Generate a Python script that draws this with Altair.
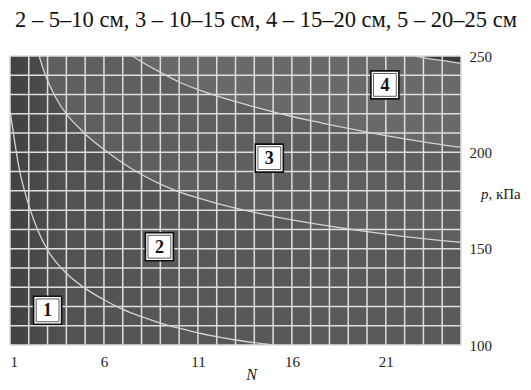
import altair as alt
import pandas as pd

# --- data ---
c1_N = [1, 1.5, 2, 2.5, 3, 4, 5, 6, 7, 8, 9, 10, 11, 12, 13, 14, 15]
c1_p = [222, 191, 172.6, 159, 149.3, 137.2, 129.4, 123.5, 118.5, 114.7, 111.4, 108.7, 106.3, 104.3, 102.6, 101.2, 100]

c2_N = [2.55, 2.85, 3.4, 4.15, 4.7, 5, 6, 7, 8, 9, 10, 11, 12, 13, 14, 15, 16, 17, 18, 19, 20, 21, 22, 23, 24, 25]
c2_p = [250, 241, 229, 218, 212.5, 209.5, 201.5, 194.5, 188.5, 183.5, 179.5, 176.3, 173.5, 171, 168.8, 166.8,
        165, 163.3, 161.7, 160.2, 158.8, 157.5, 156.3, 155.2, 154.2, 153.3]

c3_N = [7.5, 8, 9, 10, 11, 12, 13, 14, 15, 16, 17, 18, 19, 20, 21, 22, 23, 24, 25]
c3_p = [250, 247, 241.5, 236.5, 232.5, 229.3, 226.3, 223.6, 221, 218.6, 216.4, 214.4, 212.4, 210.5, 208.7,
        207, 205.4, 203.9, 202.6]

c4_N = [22.6, 23, 24, 25]
c4_p = [250, 249.2, 247.7, 246.2]

label_text = ["1", "2", "3", "4"]
label_N = [3.0, 8.95, 14.8, 20.95]
label_p = [118, 151, 197, 235]

x_ticks = [1, 6, 11, 16, 21]
y_ticks = [100, 150, 200, 250]
grid_N = list(range(1, 26))
grid_p = list(range(100, 251, 10))

caption = "2 – 5–10 см, 3 – 10–15 см, 4 – 15–20 см, 5 – 20–25 см"

W, H = 451, 289
FONT = "Liberation Serif"

def curve_df(N, p):
    return pd.DataFrame({"N": N, "p": p})

xs = alt.Scale(domain=[1, 25], nice=False, zero=False)
ys = alt.Scale(domain=[100, 250], nice=False, zero=False)
X = alt.X("N:Q", scale=xs, axis=alt.Axis(values=x_ticks, title="N", titleFontStyle="italic",
                                           titleFont=FONT, titleFontSize=16, titleFontWeight="normal",
                                           titleColor="#222", titleX=241, titleY=34,
                                           titleBaseline="alphabetic",
                                           labelFont=FONT, labelFontSize=15, labelColor="#222",
                                           labelPadding=9, domain=False, ticks=False, grid=False))
Y = alt.Y("p:Q", scale=ys, axis=alt.Axis(values=y_ticks, title=None, orient="right",
                                           labelFont=FONT, labelFontSize=15, labelColor="#222",
                                           labelPadding=8, domain=False, ticks=False, grid=False))

bg_df = pd.DataFrame({"N": [1], "N2": [25], "p": [100], "p2": [250]})
bg = alt.Chart(bg_df).mark_rect(
    color=alt.Gradient(gradient="linear", x1=0, x2=1, y1=0, y2=0,
                       stops=[alt.GradientStop(color="#414141", offset=0),
                              alt.GradientStop(color="#515151", offset=0.12),
                              alt.GradientStop(color="#575757", offset=0.35),
                              alt.GradientStop(color="#5a5a5a", offset=1)])
).encode(x=X, x2="N2:Q", y=Y, y2="p2:Q")

def area(N, p, color):
    return alt.Chart(curve_df(N, p)).mark_area(
        color=color, interpolate="monotone", clip=True
    ).encode(x=X, y=Y, y2=alt.datum(250))

r3 = area(c2_N, c2_p, "#5f5f5f")
r4 = area(c3_N, c3_p, "#696969")
r5 = area(c4_N, c4_p, "#3a3a3a")

vgrid = alt.Chart(pd.DataFrame({"N": grid_N})).mark_rule(color="#dedede", strokeWidth=1.5).encode(x=X)
hgrid = alt.Chart(pd.DataFrame({"p": grid_p})).mark_rule(color="#dedede", strokeWidth=1.5).encode(y=Y)

def line(N, p):
    return alt.Chart(curve_df(N, p)).mark_line(
        color="#d4d4d4", strokeWidth=1.3, interpolate="monotone", clip=True
    ).encode(x=X, y=Y)

lines = [line(c1_N, c1_p), line(c2_N, c2_p), line(c3_N, c3_p), line(c4_N, c4_p)]

lab_df = pd.DataFrame({"N": label_N, "p": label_p, "t": label_text})
box_outer = alt.Chart(lab_df).mark_square(size=784, fill="white", fillOpacity=1,
                                          stroke="#111", strokeWidth=1.6).encode(x=X, y=Y)
box_inner = alt.Chart(lab_df).mark_square(size=520, filled=False, stroke="#333",
                                          strokeWidth=0.8, opacity=1).encode(x=X, y=Y)
box_text = alt.Chart(lab_df).mark_text(font=FONT, fontSize=18, fontWeight="bold", color="#111",
                                       baseline="middle", align="center", dy=1).encode(x=X, y=Y, text="t:N")

cap = alt.Chart(pd.DataFrame({"t": [caption]})).mark_text(
    font=FONT, fontSize=22.5, color="#111", align="center", baseline="top"
).encode(x=alt.value(256), y=alt.value(-47), text="t:N")

ptitle1 = alt.Chart(pd.DataFrame({"t": ["p,"]})).mark_text(
    font=FONT, fontSize=15, fontStyle="italic", color="#222", align="left", baseline="alphabetic"
).encode(x=alt.value(471), y=alt.value(143), text="t:N")
ptitle2 = alt.Chart(pd.DataFrame({"t": ["кПа"]})).mark_text(
    font=FONT, fontSize=15, color="#222", align="left", baseline="alphabetic"
).encode(x=alt.value(486), y=alt.value(143), text="t:N")

chart = alt.layer(bg, r3, r4, r5, vgrid, hgrid, *lines, box_outer, box_inner, box_text,
                  cap, ptitle1, ptitle2).properties(
    width=W, height=H,
    autosize=alt.AutoSizeParams(type="none"),
    padding={"left": 2, "top": 48, "right": 62, "bottom": 37},
    background="white",
).configure_view(stroke=None)

chart.save("out.html", embed_options={"renderer": "svg", "actions": False})
